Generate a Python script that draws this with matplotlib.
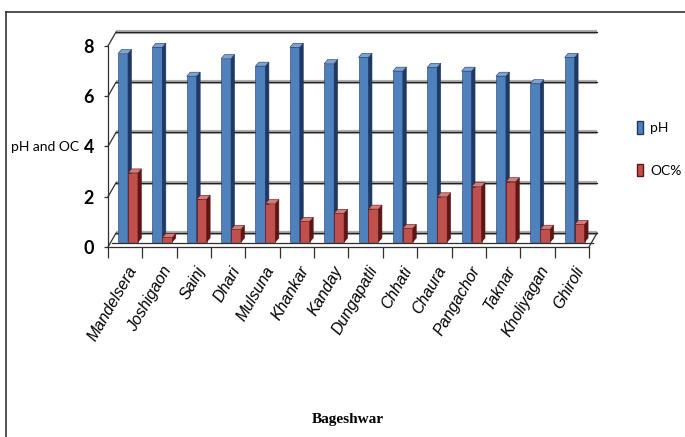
import matplotlib
matplotlib.use("Agg")
import matplotlib.pyplot as plt
import matplotlib.transforms as mtransforms
from matplotlib.patches import Polygon, Patch
from matplotlib.lines import Line2D
import numpy as np

sites = ["Mandelsera", "Joshigaon", "Sainj", "Dhari", "Mulsuna", "Khankar",
         "Kanday", "Dungapatli", "Chhati", "Chaura", "Pangachor", "Taknar",
         "Kholiyagan", "Ghiroli"]
ph = [7.5, 7.75, 6.6, 7.3, 7.0, 7.75, 7.1, 7.35, 6.8, 6.95, 6.8, 6.6, 6.3, 7.35]
oc = [2.75, 0.18, 1.7, 0.5, 1.53, 0.82, 1.14, 1.31, 0.54, 1.8, 2.2, 2.4, 0.51, 0.7]
yticks = [0, 2, 4, 6, 8]

NARROW = ["Lato", "DejaVu Sans"]

W, H = 685, 437
fig = plt.figure(figsize=(W / 100, H / 100), dpi=100)
fig.patch.set_facecolor("white")

# front plane of the 3-D box, in pixels
x0, x1, y0, y1 = 108, 589, 247, 46
ax = fig.add_axes([x0 / W, 1 - y0 / H, (x1 - x0) / W, (y0 - y1) / H])
n = len(sites)
ax.set_xlim(0, n)
ax.set_ylim(0, 8)
ax.patch.set_alpha(0)

px_x = (x1 - x0) / n          # pixels per category
px_y = (y0 - y1) / 8.0        # pixels per unit

# back wall sits up and to the right of the front plane
back = mtransforms.offset_copy(ax.transData, fig=fig, x=8, y=14, units="dots")
mid = mtransforms.offset_copy(ax.transData, fig=fig, x=4, y=5, units="dots")

# gridlines on back wall + slanted ones on the left side wall
for v in yticks:
    ax.plot([0, n], [v, v], color="#b0b0b0", lw=3.0, transform=back,
            clip_on=False, zorder=1, solid_capstyle="butt")
    ax.plot([0, n], [v, v], color="#202020", lw=0.9, transform=back,
            clip_on=False, zorder=1.1)
    ax.plot([0, 8 / px_x], [v, v + 14 / px_y], color="#303030", lw=0.9,
            clip_on=False, zorder=1.1)

# floor edge, front and right side
fx = 4 / px_x
fy = 4 / px_y
ax.plot([fx, n + fx], [fy, fy], color="#303030", lw=0.9, clip_on=False, zorder=1.1)
ax.plot([n, n + 8 / px_x], [0, 14 / px_y], color="#303030", lw=0.9,
        clip_on=False, zorder=1.1)

# bars with a little depth
bw = 0.29
dx = 3.5 / px_x
dy = 4.0 / px_y
xs = np.arange(n)


def draw_bars(lefts, vals, front, side, top, z):
    ax.bar(lefts, vals, bw, align="edge", color=front, edgecolor=side,
           linewidth=0.4, transform=mid, zorder=z, clip_on=False)
    for xl, v in zip(lefts, vals):
        xr = xl + bw
        ax.add_patch(Polygon([(xr, 0), (xr, v), (xr + dx, v + dy), (xr + dx, dy)],
                             closed=True, facecolor=side, edgecolor=side,
                             linewidth=0.4, transform=mid, zorder=z,
                             clip_on=False))
        ax.add_patch(Polygon([(xl, v), (xr, v), (xr + dx, v + dy), (xl + dx, v + dy)],
                             closed=True, facecolor=top, edgecolor=side,
                             linewidth=0.4, transform=mid, zorder=z,
                             clip_on=False))


draw_bars(xs + 0.175, ph, "#4f81bd", "#1f3864", "#7aa3d6", 3)
draw_bars(xs + 0.175 + bw, oc, "#c0504d", "#5e1614", "#d77b78", 4)

# axes: front left and bottom edges
for s in ["top", "right"]:
    ax.spines[s].set_visible(False)
for s in ["left", "bottom"]:
    ax.spines[s].set_color("#303030")
    ax.spines[s].set_linewidth(0.9)

ax.set_yticks(yticks)
ax.set_yticklabels([str(v) for v in yticks], fontsize=13, fontweight="bold",
                   family=NARROW)
ax.tick_params(axis="y", direction="out", length=3, width=0.9, pad=7,
               color="#303030")

ax.set_xticks(np.arange(n + 1))
ax.set_xticklabels([])
ax.tick_params(axis="x", which="major", direction="out", length=8, width=0.9,
               color="#303030")
ax.set_xticks(xs + 0.55, minor=True)
ax.set_xticklabels(sites, minor=True, rotation=60, ha="right", va="top",
                   rotation_mode="anchor", fontsize=11.5, style="italic",
                   family=["Liberation Sans", "DejaVu Sans"])
ax.tick_params(axis="x", which="minor", length=0, pad=12)

fig.text(45 / W, 1 - 147 / H, "pH and OC", ha="center", va="center",
         fontsize=10, family=NARROW)
fig.text(348 / W, 1 - 419 / H, "Bageshwar", ha="center", va="center",
         fontsize=11, fontweight="bold", family=["Liberation Serif", "DejaVu Serif"])

handles = [Patch(facecolor="#4f81bd", edgecolor="#1f3864", label="pH"),
           Patch(facecolor="#c0504d", edgecolor="#5e1614", label="OC%")]
fig.legend(handles=handles, loc="center left",
           bbox_to_anchor=(624 / W, 1 - 149 / H), frameon=False,
           handlelength=0.45, handleheight=1.0, handletextpad=0.55,
           labelspacing=2.1, prop={"family": NARROW, "size": 10})

# partial frame around the chart
fig.add_artist(Line2D([6 / W, 6 / W], [0, 1 - 12 / H], color="#333333", lw=1.2,
                      transform=fig.transFigure))
fig.add_artist(Line2D([6 / W, 1], [1 - 12 / H, 1 - 12 / H], color="#333333",
                      lw=1.2, transform=fig.transFigure))

fig.savefig("out.png", dpi=100)
